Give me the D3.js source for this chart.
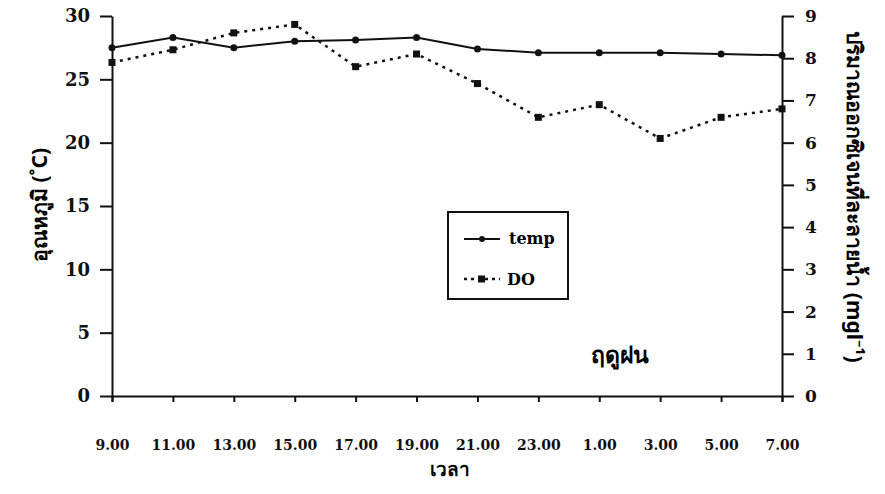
<!DOCTYPE html>
<html>
<head>
<meta charset="utf-8">
<script src="https://cdn.jsdelivr.net/npm/d3@7"></script>
<style>
  body { margin: 0; background: #fff; }
  svg { display: block; }
  .tick text { font-family: "DejaVu Serif", serif; font-weight: bold; fill: #111; }
  .domain, .tick line { stroke: #111; stroke-width: 2; }
</style>
</head>
<body>
<div id="chart"></div>
<script>
// get the data
var times = ["9.00", "11.00", "13.00", "15.00", "17.00", "19.00", "21.00", "23.00", "1.00", "3.00", "5.00", "7.00"];
var temp = [27.5, 28.3, 27.5, 28.0, 28.1, 28.3, 27.4, 27.1, 27.1, 27.1, 27.0, 26.9];
var doValues = [7.9, 8.2, 8.6, 8.8, 7.8, 8.1, 7.4, 6.6, 6.9, 6.1, 6.6, 6.8];
var leftTicks = [0, 5, 10, 15, 20, 25, 30];
var rightTicks = [0, 1, 2, 3, 4, 5, 6, 7, 8, 9];

var width = 885, height = 494;
var margin = { left: 112, right: 103, top: 16, bottom: 98 };

var svg = d3.select("#chart").append("svg")
    .attr("width", width)
    .attr("height", height);

var x = d3.scalePoint()
    .domain(times)
    .range([margin.left, width - margin.right]);

var yLeft = d3.scaleLinear().domain([0, 30]).range([height - margin.bottom, margin.top]);
var yRight = d3.scaleLinear().domain([0, 9]).range([height - margin.bottom, margin.top]);

// axes
var xAxis = svg.append("g")
    .attr("transform", "translate(0," + (height - margin.bottom) + ")")
    .call(d3.axisBottom(x).tickSize(6).tickPadding(38));
xAxis.selectAll(".tick text").style("font-size", "14px");

var leftAxis = svg.append("g")
    .attr("transform", "translate(" + margin.left + ",0)")
    .call(d3.axisLeft(yLeft).tickValues(leftTicks).tickSize(12).tickSizeOuter(0).tickPadding(10));
leftAxis.selectAll(".tick text").style("font-size", "18px");

var rightAxis = svg.append("g")
    .attr("transform", "translate(" + (width - margin.right) + ",0)")
    .call(d3.axisRight(yRight).tickValues(rightTicks).tickSize(12).tickSizeOuter(0).tickPadding(11));
rightAxis.selectAll(".tick text").style("font-size", "17px");

// axis titles
svg.append("text")
    .attr("transform", "translate(47,205) rotate(-90)")
    .attr("text-anchor", "middle")
    .style("font-family", "'Noto Sans', sans-serif")
    .style("font-weight", "bold")
    .style("font-size", "21px")
    .text("อุณหภูมิ (˚C)");

svg.append("text")
    .attr("transform", "translate(847,197) rotate(90)")
    .attr("text-anchor", "middle")
    .style("font-family", "'Noto Sans', sans-serif")
    .style("font-weight", "bold")
    .style("font-size", "21px")
    .text("ปริมาณออกซิเจนที่ละลายน้ำ (mgl⁻¹)");

svg.append("text")
    .attr("x", 450)
    .attr("y", 476)
    .attr("text-anchor", "middle")
    .style("font-family", "'Noto Sans', sans-serif")
    .style("font-weight", "bold")
    .style("font-size", "19px")
    .text("เวลา");

svg.append("text")
    .attr("x", 620)
    .attr("y", 363)
    .attr("text-anchor", "middle")
    .style("font-family", "'Noto Sans', sans-serif")
    .style("font-weight", "bold")
    .style("font-size", "23px")
    .text("ฤดูฝน");

// the lines
var tempLine = d3.line()
    .x(function (d, i) { return x(times[i]); })
    .y(function (d) { return yLeft(d); });

var doLine = d3.line()
    .x(function (d, i) { return x(times[i]); })
    .y(function (d) { return yRight(d); });

svg.append("path")
    .datum(doValues)
    .attr("d", doLine)
    .attr("fill", "none")
    .attr("stroke", "#111")
    .attr("stroke-width", 2.5)
    .attr("stroke-dasharray", "3,5");

svg.append("path")
    .datum(temp)
    .attr("d", tempLine)
    .attr("fill", "none")
    .attr("stroke", "#111")
    .attr("stroke-width", 2);

svg.selectAll(".doMark")
    .data(doValues)
    .enter().append("rect")
    .attr("class", "doMark")
    .attr("x", function (d, i) { return x(times[i]) - 3.5; })
    .attr("y", function (d) { return yRight(d) - 3.5; })
    .attr("width", 7)
    .attr("height", 7)
    .attr("fill", "#111");

svg.selectAll(".tempMark")
    .data(temp)
    .enter().append("circle")
    .attr("class", "tempMark")
    .attr("cx", function (d, i) { return x(times[i]); })
    .attr("cy", function (d) { return yLeft(d); })
    .attr("r", 3.5)
    .attr("fill", "#111");

// legend
var legend = svg.append("g").attr("transform", "translate(448,212)");
legend.append("rect")
    .attr("width", 120)
    .attr("height", 87)
    .attr("fill", "#fff")
    .attr("stroke", "#111")
    .attr("stroke-width", 2);

legend.append("line")
    .attr("x1", 16).attr("x2", 52).attr("y1", 27).attr("y2", 27)
    .attr("stroke", "#111").attr("stroke-width", 2);
legend.append("circle").attr("cx", 34).attr("cy", 27).attr("r", 3).attr("fill", "#111");
legend.append("text")
    .attr("x", 61).attr("y", 32)
    .style("font-family", "'DejaVu Serif', serif")
    .style("font-weight", "bold")
    .style("font-size", "16px")
    .text("temp");

legend.append("line")
    .attr("x1", 16).attr("x2", 52).attr("y1", 67).attr("y2", 67)
    .attr("stroke", "#111").attr("stroke-width", 2.5)
    .attr("stroke-dasharray", "3,4");
legend.append("rect").attr("x", 30).attr("y", 63.5).attr("width", 7).attr("height", 7).attr("fill", "#111");
legend.append("text")
    .attr("x", 59).attr("y", 73)
    .style("font-family", "'DejaVu Serif', serif")
    .style("font-weight", "bold")
    .style("font-size", "16px")
    .text("DO");
</script>
</body>
</html>
